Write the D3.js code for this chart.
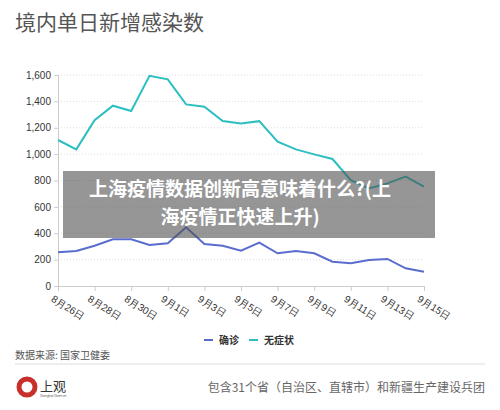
<!DOCTYPE html>
<html><head><meta charset="utf-8">
<script src="https://cdn.jsdelivr.net/npm/d3@7"></script>
<style>body{margin:0;background:#fff}svg{display:block;font-family:"Noto Sans CJK SC","Noto Sans",sans-serif}</style>
</head><body>
<svg id="c" width="500" height="410"></svg>
<script>
const dates = ["8月26日","8月27日","8月28日","8月29日","8月30日","8月31日","9月1日","9月2日","9月3日","9月4日","9月5日","9月6日","9月7日","9月8日","9月9日","9月10日","9月11日","9月12日","9月13日","9月14日","9月15日"];
const confirmed = [255,265,305,354,354,311,324,445,318,305,268,329,248,265,248,184,172,197,205,134,108];
const asymptomatic = [1107,1036,1258,1367,1327,1594,1567,1377,1359,1251,1233,1250,1094,1036,998,963,803,740,778,829,753];
const yTicks = [0,200,400,600,800,1000,1200,1400,1600];

const svg = d3.select("#c");
const x = d3.scalePoint().domain(dates).range([58,424]);
const y = d3.scaleLinear().domain([0,1600]).range([286,75]);

svg.append("text").attr("x",15).attr("y",30).attr("font-size",21).attr("fill","#555").text("境内单日新增感染数");

svg.append("g").selectAll("line").data(yTicks.slice(1)).join("line")
  .attr("x1",58).attr("x2",424).attr("y1",d=>y(d)).attr("y2",d=>y(d))
  .attr("stroke","#ddd").attr("stroke-dasharray","1,2");

const ya = svg.append("g").attr("transform","translate(58,0)")
  .call(d3.axisLeft(y).tickValues(yTicks).tickFormat(d3.format(",")).tickSize(4));
ya.selectAll("text").attr("font-size",10).attr("fill","#333");
ya.selectAll("line,path").attr("stroke","#ccc");

const xa = svg.append("g").attr("transform","translate(0,286)")
  .call(d3.axisBottom(x).tickValues(dates.filter((d,i)=>i%2===0)).tickSize(5));
xa.selectAll("line,path").attr("stroke","#ccc");
xa.selectAll("text").attr("font-size",10).attr("fill","#333")
  .attr("text-anchor","start").attr("transform","translate(0,2) rotate(32)");

const line = d3.line().x((d,i)=>x(dates[i])).y(d=>y(d));
svg.append("path").datum(asymptomatic).attr("d",line).attr("fill","none").attr("stroke","#2cbfc1").attr("stroke-width",2);
svg.append("path").datum(confirmed).attr("d",line).attr("fill","none").attr("stroke","#5a6dcf").attr("stroke-width",2);

const lg = svg.append("g");
lg.append("line").attr("x1",204).attr("x2",213).attr("y1",340).attr("y2",340).attr("stroke","#5a6dcf").attr("stroke-width",2);
lg.append("text").attr("x",219).attr("y",344).attr("font-size",10).attr("font-weight","bold").attr("fill","#333").text("确诊");
lg.append("line").attr("x1",249).attr("x2",258).attr("y1",340).attr("y2",340).attr("stroke","#2cbfc1").attr("stroke-width",2);
lg.append("text").attr("x",264).attr("y",344).attr("font-size",10).attr("font-weight","bold").attr("fill","#333").text("无症状");

svg.append("text").attr("x",15).attr("y",359).attr("font-size",10).attr("fill","#555").text("数据来源: 国家卫健委");
svg.append("line").attr("x1",15).attr("x2",485).attr("y1",364).attr("y2",364).attr("stroke","#ddd");

svg.append("circle").attr("cx",27).attr("cy",387).attr("r",8).attr("fill","none").attr("stroke","#c8302c").attr("stroke-width",5);
svg.append("text").attr("x",40).attr("y",391).attr("font-size",13).attr("fill","#333").text("上观");
svg.append("text").attr("x",40).attr("y",397).attr("font-size",3).attr("fill","#555").text("Shanghai Observer");
svg.append("text").attr("x",485).attr("y",392).attr("text-anchor","end").attr("font-size",12).attr("fill","#666").text("包含31个省（自治区、直辖市）和新疆生产建设兵团");

svg.append("rect").attr("x",63).attr("y",171).attr("width",372).attr("height",67).attr("fill","rgba(80,80,80,0.6)");
svg.append("text").attr("x",240).attr("y",196).attr("text-anchor","middle").attr("font-size",19).attr("font-weight","bold").attr("fill","#fff").text("上海疫情数据创新高意味着什么?(上");
svg.append("text").attr("x",240).attr("y",224).attr("text-anchor","middle").attr("font-size",19).attr("font-weight","bold").attr("fill","#fff").text("海疫情正快速上升)");
</script>
</body></html>
